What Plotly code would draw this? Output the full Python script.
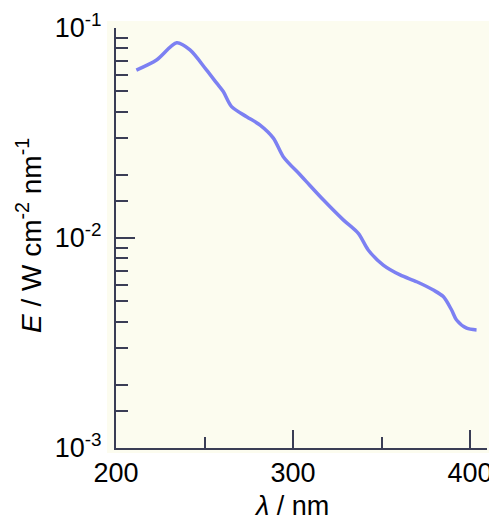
import plotly.graph_objects as go

wavelength_nm = [211.5, 222.9, 234.3, 241.8, 251.2, 256.9, 260.6, 265.3, 273.8, 281.4,
                 288.9, 294.5, 304.0, 307.7, 317.1, 328.4, 336.9, 342.5, 351.0, 360.5,
                 369.9, 379.3, 384.9, 389.6, 392.4, 398.1, 403.7]
irradiance = [0.0630, 0.0704, 0.0850, 0.0786, 0.0630, 0.0546, 0.0498, 0.0422, 0.0378, 0.0345,
              0.0299, 0.0244, 0.0200, 0.0185, 0.0152, 0.0122, 0.01052, 0.00877, 0.00743, 0.00667,
              0.00619, 0.00565, 0.00526, 0.00454, 0.00407, 0.00372, 0.00365]

x_major_ticks = [200, 300, 400]
x_major_labels = ["200", "300", "400"]
x_minor_ticks = [250, 350]
y_major_ticks = [1e-3, 1e-2, 1e-1]
y_major_labels = ["10<sup>-3</sup>", "10<sup>-2</sup>", "10<sup>-1</sup>"]
y_minor_ticks = [m * d for d in (1e-3, 1e-2) for m in (1.5, 2, 3, 4, 5, 6, 7, 8, 9)]

AXIS = "#3a3d55"
BG = "#fcfcef"
FONT = "Liberation Sans, Arial, sans-serif"

# the page body adds an 8px margin, so the figure is shifted by 8px
fig = go.Figure()
fig.add_trace(go.Scatter(
    x=wavelength_nm, y=irradiance, mode="lines",
    line=dict(color="#7c80f2", width=3.5, shape="spline", smoothing=0.8),
    hoverinfo="skip", showlegend=False))

PW, PH = 371, 420  # plot area size in px


def px_x(page_x):
    return (page_x - 116) / PW


def px_y(page_y):
    return (448 - page_y) / PH


fig.update_layout(
    width=489, height=515,
    margin=dict(l=108, r=10, t=20, b=75, autoexpand=False),
    paper_bgcolor="white", plot_bgcolor=BG,
    font=dict(family=FONT, size=26, color="black"),
    xaxis=dict(range=[200, 409.6], showline=True, linecolor=AXIS, linewidth=2,
               ticks="inside", ticklen=18, tickwidth=2, tickcolor=AXIS,
               tickmode="array", tickvals=x_major_ticks, ticktext=x_major_labels,
               minor=dict(tickmode="array", tickvals=x_minor_ticks, ticks="inside",
                          ticklen=11, tickwidth=2, tickcolor=AXIS, showgrid=False),
               showgrid=False, zeroline=False, automargin=False, ticklabeloverflow="allow",
               tickfont=dict(family=FONT, size=27, color="black")),
    yaxis=dict(type="log", range=[-3, -1], showline=True, linecolor=AXIS, linewidth=2,
               ticks="inside", ticklen=19, tickwidth=2, tickcolor=AXIS,
               tickmode="array", tickvals=y_major_ticks, ticktext=y_major_labels,
               minor=dict(tickmode="array", tickvals=y_minor_ticks, ticks="inside",
                          ticklen=12, tickwidth=2, tickcolor=AXIS, showgrid=False),
               showgrid=False, zeroline=False, automargin=False, ticklabelstandoff=7,
               tickfont=dict(family=FONT, size=27, color="black")),
    shapes=[dict(type="rect", xref="paper", yref="paper",
                 x0=px_x(107), x1=px_x(490), y0=px_y(453), y1=px_y(21),
                 fillcolor=BG, line=dict(width=0), layer="below")],
    annotations=[
        dict(text="<i>λ</i> / nm", xref="paper", yref="paper",
             x=px_x(291), y=px_y(506), showarrow=False,
             xanchor="center", yanchor="middle", font=dict(family=FONT, size=27)),
        dict(text="<i>E</i> / W cm<sup>-2</sup> nm<sup>-1</sup>", xref="paper", yref="paper",
             x=px_x(29), y=px_y(236), showarrow=False, textangle=-90,
             xanchor="center", yanchor="middle", font=dict(family=FONT, size=28)),
    ],
)

fig.write_html("out.html")
